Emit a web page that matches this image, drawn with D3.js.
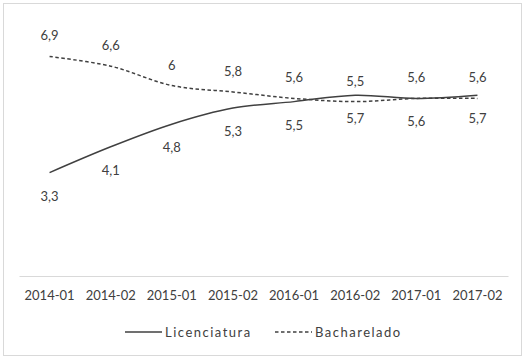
<!DOCTYPE html>
<html>
<head>
<meta charset="utf-8">
<script src="https://cdn.jsdelivr.net/npm/d3@7"></script>
<style>
  body { margin: 0; background: #fff; }
  svg text { font-family: "Century Gothic", "Lato", sans-serif; fill: #404040; }
</style>
</head>
<body>
<svg id="chart" width="527" height="361"></svg>
<script>
const categories = ['2014-01', '2014-02', '2015-01', '2015-02', '2016-01', '2016-02', '2017-01', '2017-02'];
const licenciatura = [3.3, 4.1, 4.8, 5.3, 5.5, 5.7, 5.6, 5.7];
const bacharelado = [6.9, 6.6, 6.0, 5.8, 5.6, 5.5, 5.6, 5.6];
const seriesNames = ['Licenciatura', 'Bacharelado'];

const svg = d3.select('#chart');
const width = +svg.attr('width');
const height = +svg.attr('height');
const margin = { top: 21, right: 19, bottom: 85, left: 19 };

// moldura do gráfico
svg.append('rect')
    .attr('x', 3.5).attr('y', 3.5)
    .attr('width', width - 9).attr('height', height - 9)
    .attr('fill', '#fff')
    .attr('stroke', '#d9d9d9');

const xScale = d3.scaleBand()
    .domain(categories)
    .range([margin.left, width - margin.right]);

const yScale = d3.scaleLinear()
    .domain([0, 8])
    .range([279, margin.top]);

const xPos = c => xScale(c) + xScale.bandwidth() / 2;
const axisY = 276;

// eixo das categorias
const xAxis = svg.append('g')
    .attr('transform', `translate(0,${axisY})`)
    .call(d3.axisBottom(xScale).tickSize(0).tickPadding(15));
xAxis.select('.domain').attr('stroke', '#d9d9d9');
xAxis.selectAll('text')
    .style('font-size', '13px')
    .attr('fill', '#404040');

const line = d3.line()
    .x((d, i) => xPos(categories[i]))
    .y(d => yScale(d))
    .curve(d3.curveCatmullRom);

svg.append('path')
    .datum(licenciatura)
    .attr('fill', 'none')
    .attr('stroke', '#404040')
    .attr('stroke-width', 1.5)
    .attr('d', line);

svg.append('path')
    .datum(bacharelado)
    .attr('fill', 'none')
    .attr('stroke', '#404040')
    .attr('stroke-width', 1.5)
    .attr('stroke-dasharray', '3.5,2.5')
    .attr('d', line);

const fmt = v => String(+v.toFixed(1)).replace('.', ',');

// rótulos de dados
svg.append('g').selectAll('text')
    .data(licenciatura)
    .join('text')
    .attr('x', (d, i) => xPos(categories[i]))
    .attr('y', d => yScale(d) + 28)
    .attr('text-anchor', 'middle')
    .style('font-size', '13px')
    .text(fmt);

svg.append('g').selectAll('text')
    .data(bacharelado)
    .join('text')
    .attr('x', (d, i) => xPos(categories[i]))
    .attr('y', d => yScale(d) - 16)
    .attr('text-anchor', 'middle')
    .style('font-size', '13px')
    .text(fmt);

// legenda
const legend = svg.append('g');
const legendItems = [
    { name: seriesNames[0], x: 125, dash: null },
    { name: seriesNames[1], x: 275, dash: '3.5,2.5' }
];
legendItems.forEach(it => {
    legend.append('line')
        .attr('x1', it.x).attr('x2', it.x + 37)
        .attr('y1', 332).attr('y2', 332)
        .attr('stroke', '#404040')
        .attr('stroke-width', 1.5)
        .attr('stroke-dasharray', it.dash);
    legend.append('text')
        .attr('x', it.x + 40)
        .attr('y', 337)
        .style('font-size', '13px')
        .style('letter-spacing', '1.5px')
        .text(it.name);
});
</script>
</body>
</html>
